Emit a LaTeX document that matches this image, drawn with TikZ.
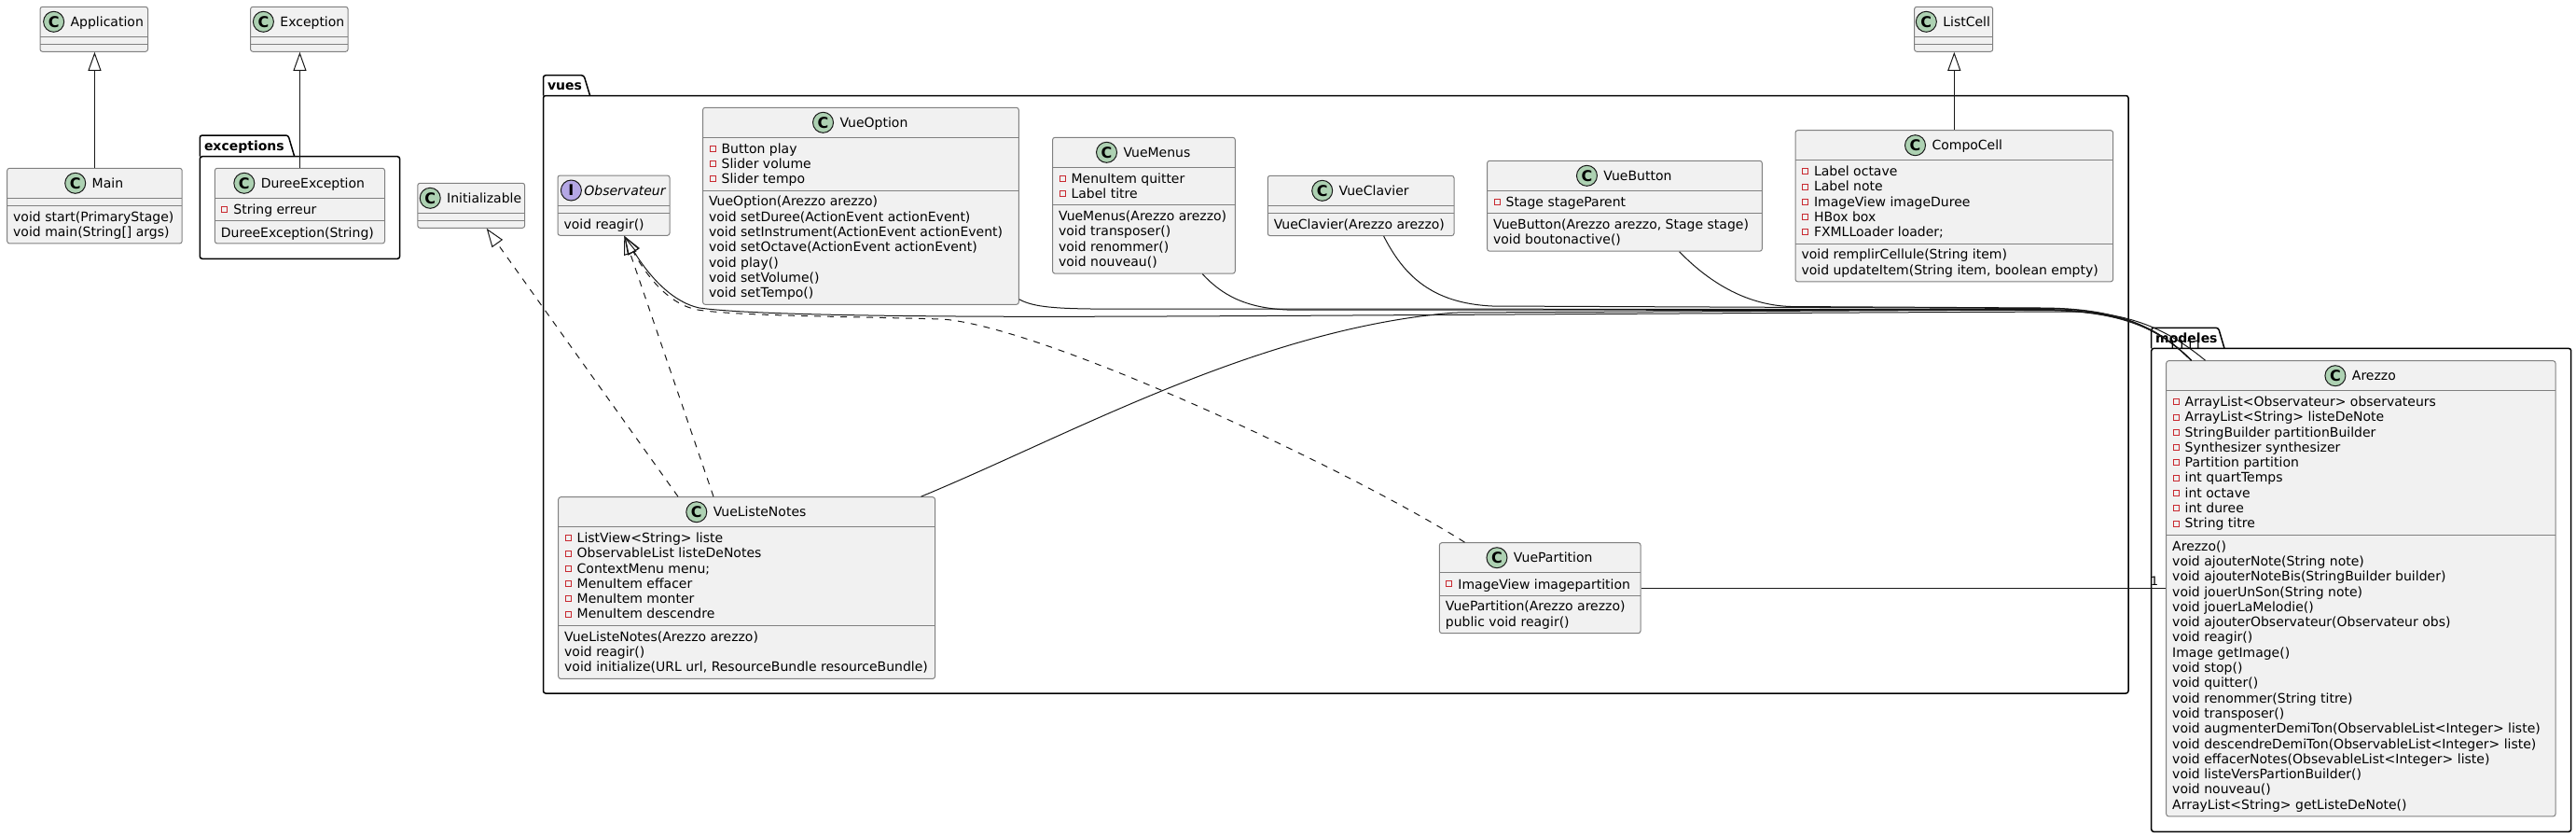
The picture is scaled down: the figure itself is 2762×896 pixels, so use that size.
\documentclass[tikz,border=0pt]{standalone}
\usepackage{fontspec}
\setmainfont{DejaVu Sans}
\usetikzlibrary{positioning,fit,calc,arrows.meta}

\tikzset{every picture/.style={line width=0.5pt}}
\tikzset{
  classbox/.style={draw=black!50, fill={rgb,255:red,241;green,241;blue,241}, rounded corners=1.25pt, inner sep=0pt, line width=0.5pt},
  sep/.style={draw=black!50, line width=0.5pt},
  cname/.style={inner sep=0pt, text height=5pt, text depth=0pt, font=\fontsize{7pt}{8.15pt}\selectfont},
  spotC/.style={circle, draw={rgb,255:red,24;green,24;blue,24}, fill={rgb,255:red,173;green,209;blue,178}, minimum size=11pt, inner sep=0pt, font=\fontsize{8pt}{8pt}\selectfont\bfseries, line width=0.5pt},
  spotI/.style={spotC, fill={rgb,255:red,180;green,167;blue,229}},
  member/.style={anchor=north west, inner sep=0pt, align=left, font=\fontsize{7pt}{8.15pt}\selectfont, execute at begin node=\strut},
  priv/.style={draw={rgb,255:red,200;green,41;blue,48}, line width=0.5pt},
  pkg/.style={draw=black, line width=0.75pt, rounded corners=1.25pt},
  pkgname/.style={anchor=base west, inner sep=0pt, font=\fontsize{7pt}{8.15pt}\selectfont\bfseries},
  link/.style={draw={rgb,255:red,24;green,24;blue,24}, line width=0.5pt},
  extends/.style={link, -{Triangle[open, length=10pt, width=7pt]}},
  realizes/.style={extends, dash pattern=on 3.5pt off 3.5pt},
  mult/.style={anchor=base, inner sep=0pt, font=\fontsize{6.5pt}{7pt}\selectfont}
}

\begin{document}
\begin{tikzpicture}[x=0.5pt,y=0.5pt,yscale=-1,xscale=1]
\useasboundingbox (0,0) rectangle (2762,896);

%Shape: Package exceptions
\draw[pkg] (214.3,167.7) -- (214.3,145) -- (309,145) -- (315.7,167.7);
\draw[pkg] (214.3,167.7) rectangle (428.6,277.3);
\node[pkgname] (pkgExceptions) at (218.5,161.4) {exceptions};
%Shape: Package vues
\draw[pkg] (582.5,102.5) -- (582.5,80.7) -- (626,80.7) -- (632.6,102.5);
\draw[pkg] (582.5,102.5) rectangle (2282,743);
\node[pkgname] (pkgVues) at (586.5,96.6) {vues};
%Shape: Package modeles
\draw[pkg] (2306.7,373.4) -- (2306.7,351.3) -- (2378.5,351.3) -- (2385,373.4);
\draw[pkg] (2306.7,373.4) rectangle (2756.7,891.3);
\node[pkgname] (pkgModeles) at (2310.7,367.3) {modeles};

%Class: Application
\node[classbox, fit={(43,7.3) (158.5,55.3)}] (Application) {};
\draw[sep] (43,39.3) -- (158.5,39.3) (43,47.3) -- (158.5,47.3);
\node[cname] (Application-name) at (114.75,23.3) {Application};
\node[spotC, left=3pt of Application-name] (Application-spot) {C};

%Class: Exception
\node[classbox, fit={(268.6,7.3) (373.1,55.3)}] (Exception) {};
\draw[sep] (268.6,39.3) -- (373.1,39.3) (268.6,47.3) -- (373.1,47.3);
\node[cname] (Exception-name) at (334.85,23.3) {Exception};
\node[spotC, left=3pt of Exception-name] (Exception-spot) {C};

%Class: ListCell
\node[classbox, fit={(2052.6,7.3) (2136.7,55.3)}] (ListCell) {};
\draw[sep] (2052.6,39.3) -- (2136.7,39.3) (2052.6,47.3) -- (2136.7,47.3);
\node[cname] (ListCell-name) at (2108.65,23.3) {ListCell};
\node[spotC, left=3pt of ListCell-name] (ListCell-spot) {C};

%Class: Main
\node[classbox, fit={(7.7,180.3) (195.2,260.9)}] (Main) {};
\draw[sep] (7.7,212.3) -- (195.2,212.3) (7.7,220.3) -- (195.2,220.3);
\node[cname] (Main-name) at (115.45,196.3) {Main};
\node[spotC, left=3pt of Main-name] (Main-spot) {C};
\node[member] (Main-m) at (13.7,225.9) {void start(PrimaryStage)\\void main(String[] args)};

%Class: DureeException
\node[classbox, fit={(230.4,180.3) (412.5,260.9)}] (DureeException) {};
\draw[sep] (230.4,212.3) -- (412.5,212.3) (230.4,236.6) -- (412.5,236.6);
\node[cname] (DureeException-name) at (335.45,196.3) {DureeException};
\node[spotC, left=3pt of DureeException-name] (DureeException-spot) {C};
\node[member] (DureeException-f) at (249.9,217.9) {String erreur};
\draw[priv] (237.9,221.3) rectangle ++(6,6);
\node[member] (DureeException-m) at (236.4,242.2) {DureeException(String)};

%Class: Initializable
\node[classbox, fit={(447.8,196.3) (562.6,244.3)}] (Initializable) {};
\draw[sep] (447.8,228.3) -- (562.6,228.3) (447.8,236.3) -- (562.6,236.3);
\node[cname] (Initializable-name) at (519.2,212.3) {Initializable};
\node[spotC, left=3pt of Initializable-name] (Initializable-spot) {C};

%Interface: Observateur
\node[classbox, fit={(598,188) (718,252.3)}] (Observateur) {};
\draw[sep] (598,220) -- (718,220) (598,228) -- (718,228);
\node[cname, font=\fontsize{7pt}{8.15pt}\selectfont\itshape] (Observateur-name) at (670,204) {Observateur};
\node[spotI, left=1pt of Observateur-name] (Observateur-spot) {I};
\node[member] (Observateur-m) at (604,233.6) {void reagir()};

%Class: VueOption
\node[classbox, fit={(753.6,115.3) (1092.3,326.3)}] (VueOption) {};
\draw[sep] (753.6,147.3) -- (1092.3,147.3) (753.6,204.2) -- (1092.3,204.2);
\node[cname] (VueOption-name) at (936.95,131.3) {VueOption};
\node[spotC, left=3pt of VueOption-name] (VueOption-spot) {C};
\node[member] (VueOption-f) at (773.1,152.9) {Button play\\Slider volume\\Slider tempo};
\foreach \i in {0,...,2} \draw[priv] (761.1,{156.3+16.3*\i}) rectangle ++(6,6);
\node[member] (VueOption-m) at (759.6,209.8) {VueOption(Arezzo arezzo)\\void setDuree(ActionEvent actionEvent)\\void setInstrument(ActionEvent actionEvent)\\void setOctave(ActionEvent actionEvent)\\void play()\\void setVolume()\\void setTempo()};

%Class: VueMenus
\node[classbox, fit={(1128.6,147.3) (1324.3,293.1)}] (VueMenus) {};
\draw[sep] (1128.6,179.3) -- (1324.3,179.3) (1128.6,219.9) -- (1324.3,219.9);
\node[cname] (VueMenus-name) at (1240.45,163.3) {VueMenus};
\node[spotC, left=3pt of VueMenus-name] (VueMenus-spot) {C};
\node[member] (VueMenus-f) at (1148.1,184.9) {MenuItem quitter\\Label titre};
\foreach \i in {0,1} \draw[priv] (1136.1,{188.3+16.3*\i}) rectangle ++(6,6);
\node[member] (VueMenus-m) at (1134.6,225.5) {VueMenus(Arezzo arezzo)\\void transposer()\\void renommer()\\void nouveau()};

%Class: VueClavier
\node[classbox, fit={(1359.3,188.3) (1559,252.6)}] (VueClavier) {};
\draw[sep] (1359.3,220.3) -- (1559,220.3) (1359.3,228.3) -- (1559,228.3);
\node[cname] (VueClavier-name) at (1473.15,204.3) {VueClavier};
\node[spotC, left=3pt of VueClavier-name] (VueClavier-spot) {C};
\node[member] (VueClavier-m) at (1365.3,233.9) {VueClavier(Arezzo arezzo)};

%Class: VueButton
\node[classbox, fit={(1594.6,172.3) (1889.3,269.2)}] (VueButton) {};
\draw[sep] (1594.6,204.3) -- (1889.3,204.3) (1594.6,228.6) -- (1889.3,228.6);
\node[cname] (VueButton-name) at (1755.95,188.3) {VueButton};
\node[spotC, left=3pt of VueButton-name] (VueButton-spot) {C};
\node[member] (VueButton-f) at (1614.1,209.9) {Stage stageParent};
\draw[priv] (1602.1,213.3) rectangle ++(6,6);
\node[member] (VueButton-m) at (1600.6,234.2) {VueButton(Arezzo arezzo, Stage stage)\\void boutonactive()};

%Class: CompoCell
\node[classbox, fit={(1925,139.7) (2265.6,301.8)}] (CompoCell) {};
\draw[sep] (1925,171.7) -- (2265.6,171.7) (1925,261.2) -- (2265.6,261.2);
\node[cname] (CompoCell-name) at (2109.3,155.7) {CompoCell};
\node[spotC, left=3pt of CompoCell-name] (CompoCell-spot) {C};
\node[member] (CompoCell-f) at (1944.5,177.3) {Label octave\\Label note\\ImageView imageDuree\\HBox box\\FXMLLoader loader;};
\foreach \i in {0,...,4} \draw[priv] (1932.5,{180.7+16.3*\i}) rectangle ++(6,6);
\node[member] (CompoCell-m) at (1931,266.8) {void remplirCellule(String item)\\void updateItem(String item, boolean empty)};

%Class: VueListeNotes
\node[classbox, fit={(598.7,532.7) (1002.5,727.4)}] (VueListeNotes) {};
\draw[sep] (598.7,564.7) -- (1002.5,564.7) (598.7,670.5) -- (1002.5,670.5);
\node[cname] (VueListeNotes-name) at (814.6,548.7) {VueListeNotes};
\node[spotC, left=3pt of VueListeNotes-name] (VueListeNotes-spot) {C};
\node[member] (VueListeNotes-f) at (618.2,570.3) {ListView<String> liste\\ObservableList listeDeNotes\\ContextMenu menu;\\MenuItem effacer\\MenuItem monter\\MenuItem descendre};
\foreach \i in {0,...,5} \draw[priv] (606.2,{573.7+16.3*\i}) rectangle ++(6,6);
\node[member] (VueListeNotes-m) at (604.7,676.1) {VueListeNotes(Arezzo arezzo)\\void reagir()\\void initialize(URL url, ResourceBundle resourceBundle)};

%Class: VuePartition
\node[classbox, fit={(1543.4,581.7) (1759,678.6)}] (VuePartition) {};
\draw[sep] (1543.4,613.7) -- (1759,613.7) (1543.4,638) -- (1759,638);
\node[cname] (VuePartition-name) at (1665.2,597.7) {VuePartition};
\node[spotC, left=3pt of VuePartition-name] (VuePartition-spot) {C};
\node[member] (VuePartition-f) at (1562.9,619.3) {ImageView imagepartition};
\draw[priv] (1550.9,622.7) rectangle ++(6,6);
\node[member] (VuePartition-m) at (1549.4,643.6) {VuePartition(Arezzo arezzo)\\public void reagir()};

%Class: Arezzo
\node[classbox, fit={(2322.7,386.7) (2740,874.8)}] (Arezzo) {};
\draw[sep] (2322.7,418.7) -- (2740,418.7) (2322.7,573.4) -- (2740,573.4);
\node[cname] (Arezzo-name) at (2545.35,402.7) {Arezzo};
\node[spotC, left=3pt of Arezzo-name] (Arezzo-spot) {C};
\node[member] (Arezzo-f) at (2342.2,424.3) {ArrayList<Observateur> observateurs\\ArrayList<String> listeDeNote\\StringBuilder partitionBuilder\\Synthesizer synthesizer\\Partition partition\\int quartTemps\\int octave\\int duree\\String titre};
\foreach \i in {0,...,8} \draw[priv] (2330.2,{427.7+16.3*\i}) rectangle ++(6,6);
\node[member] (Arezzo-m) at (2328.7,579) {Arezzo()\\void ajouterNote(String note)\\void ajouterNoteBis(StringBuilder builder)\\void jouerUnSon(String note)\\void jouerLaMelodie()\\void ajouterObservateur(Observateur obs)\\void reagir()\\Image getImage()\\void stop()\\void quitter()\\void renommer(String titre)\\void transposer()\\void augmenterDemiTon(ObservableList<Integer> liste)\\void descendreDemiTon(ObservableList<Integer> liste)\\void effacerNotes(ObsevableList<Integer> liste)\\void listeVersPartionBuilder()\\void nouveau()\\ArrayList<String> getListeDeNote()};

% link ends
\coordinate (arzIn) at ($(Arezzo.north west)+(27.3,0)$);
\coordinate (arzInObs) at ($(Arezzo.north west)+(42.3,0)$);
\coordinate (obsTip) at ($(Observateur.south)+(11.3,0)$);
\coordinate (iniTip) at ($(Initializable.south)+(16.5,0)$);

%Inheritance
\draw[extends] (Main.north) -- (Main.north |- Application.south);
\draw[extends] (DureeException.north) -- (DureeException.north |- Exception.south);
\draw[extends] (CompoCell.north) -- (CompoCell.north |- ListCell.south);
\draw[realizes] ($(VueListeNotes.north)+(-73.6,0)$) -- (iniTip);
\draw[realizes] ($(VueListeNotes.north)+(-35.6,0)$) -- (obsTip);
\draw[realizes] ($(VuePartition.north)+(-80.7,0)$) .. controls (1450,505) and (1120,350) .. (1010,342) .. controls (900,339) and (790,338.5) .. (748,332) .. controls (710,325) and (686,282) .. (obsTip);
\draw[extends] (arzInObs) .. controls (2330,358) and (2290,334.5) .. (2220,334) .. controls (1700,336) and (1300,339.5) .. (1100,339.3) .. controls (950,339) and (800,337) .. (750,330) .. controls (712,322) and (685,278) .. (obsTip);

%Associations to Arezzo
\draw[link] ($(VueOption.south east)+(0,-6)$) .. controls (1106,328) and (1125,330.5) .. (1170,331) -- (2190,331.5) .. controls (2275,332) and (2315,352) .. (arzIn);
\draw[link] ($(VueMenus.south)+(62.8,0)$) .. controls (1310,316) and (1335,330) .. (1380,332) -- (2190,332.5) .. controls (2275,333) and (2315,352) .. (arzIn);
\draw[link] ($(VueClavier.south)+(24.5,0)$) .. controls (1505,295) and (1535,325) .. (1600,328) -- (2190,330.5) .. controls (2275,331) and (2315,352) .. (arzIn);
\draw[link] ($(VueButton.south)+(58.6,0)$) .. controls (1830,300) and (1870,327) .. (1920,328.5) -- (2190,330) .. controls (2275,330.5) and (2315,352) .. (arzIn);
\draw[link] ($(VueListeNotes.north east)+(-15.5,0)$) .. controls (1150,465) and (1350,352) .. (1560,335) -- (2190,332) .. controls (2275,332.5) and (2315,352) .. (arzIn);
\draw[link] (VuePartition.east) -- (VuePartition.east -| Arezzo.west);

% Text Node
\node[mult] (m1) at (2329.3,374) {1};
\node[mult] (m2) at (2339.3,374) {1};
\node[mult] (m3) at (2348.3,374) {1};
\node[mult] (m4) at (2356.7,374) {1};
\node[mult] (mPart) at (2310,627) {1};

\end{tikzpicture}
\end{document}
